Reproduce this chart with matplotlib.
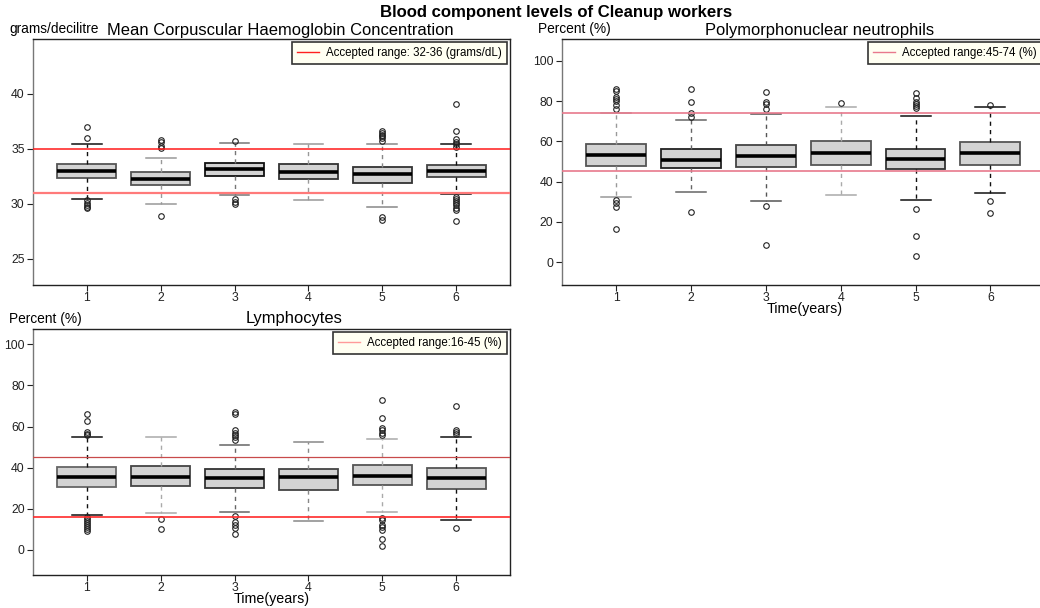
import matplotlib
matplotlib.use("Agg")
import matplotlib.pyplot as plt
from matplotlib.lines import Line2D

plt.rcParams['font.family'] = ['Liberation Sans', 'DejaVu Sans']

years = [1, 2, 3, 4, 5, 6]

# Mean Corpuscular Haemoglobin Concentration (grams/decilitre)
mchc_q1 = [32.3, 31.7, 32.5, 32.24, 31.85, 32.4]
mchc_med = [32.94, 32.24, 33.15, 32.88, 32.7, 32.94]
mchc_q3 = [33.6, 32.88, 33.7, 33.6, 33.36, 33.55]
mchc_lo = [30.42, 30.0, 30.8, 30.3, 29.73, 30.9]
mchc_hi = [35.42, 34.15, 35.5, 35.42, 35.42, 35.4]
mchc_out = [
    [37.0, 36.0, 30.3, 30.1, 29.9, 29.7, 29.6],
    [35.8, 35.6, 35.3, 35.1, 28.9],
    [35.67, 30.4, 30.2, 29.95],
    [],
    [36.6, 36.45, 36.3, 36.15, 36.0, 35.7, 28.75, 28.55],
    [39.1, 36.6, 35.9, 35.6, 35.4, 35.2, 30.65, 30.45, 30.25, 30.05, 29.85, 29.6, 29.45, 28.45],
]
mchc_range = [31, 35]

# Polymorphonuclear neutrophils (%)
pmn_q1 = [47.8, 46.5, 47.0, 48.2, 46.0, 48.2]
pmn_med = [53.0, 50.8, 52.8, 54.1, 51.3, 54.1]
pmn_q3 = [58.6, 56.0, 58.3, 60.3, 56.3, 59.8]
pmn_lo = [32.1, 34.8, 30.1, 33.1, 31.0, 34.1]
pmn_hi = [73.8, 70.4, 73.3, 76.8, 72.5, 77.2]
pmn_out = [
    [85.8, 85.0, 82.0, 81.0, 80.0, 78.0, 76.0, 30.8, 29.5, 27.2, 16.4],
    [86.1, 79.3, 74.2, 71.9, 25.0],
    [84.6, 79.6, 78.5, 76.2, 28.0, 8.4],
    [79.0],
    [84.1, 81.3, 79.6, 78.5, 77.5, 76.3, 26.2, 13.1, 3.1],
    [78.1, 30.1, 24.2],
]
pmn_range = [45, 74]

# Lymphocytes (%)
lym_q1 = [30.6, 31.0, 30.0, 29.3, 31.4, 29.8]
lym_med = [35.7, 35.3, 34.8, 35.7, 36.1, 34.8]
lym_q3 = [40.5, 40.8, 39.5, 39.5, 41.2, 40.0]
lym_lo = [17.0, 17.8, 18.3, 14.1, 18.2, 14.6]
lym_hi = [55.1, 55.1, 51.1, 52.7, 54.0, 54.9]
lym_out = [
    [66.1, 62.9, 57.5, 56.5, 55.9, 16.2, 15.0, 14.0, 13.0, 12.0, 11.0, 10.0, 9.2],
    [14.9, 10.0],
    [67.3, 66.1, 58.3, 57.0, 55.9, 54.8, 53.5, 16.5, 13.8, 12.2, 10.5, 7.5],
    [],
    [72.9, 64.0, 59.5, 58.3, 57.0, 55.9, 15.4, 14.5, 12.0, 11.0, 9.7, 5.2, 1.9],
    [70.0, 58.3, 57.3, 56.3, 10.7],
]
lym_range = [16, 45]

W, H = 1040, 608
fig = plt.figure(figsize=(W / 100, H / 100), dpi=100)


def px_axes(left, top, right, bottom):
    return fig.add_axes([left / W, 1 - bottom / H, (right - left) / W, (bottom - top) / H])


def draw_panel(ax, q1, med, q3, lo, hi, out, whisk_cols, box_cols):
    for i in range(len(years)):
        s = dict(q1=q1[i], med=med[i], q3=q3[i], whislo=lo[i], whishi=hi[i], fliers=out[i])
        ax.bxp([s], positions=[years[i]], widths=0.8, capwidths=0.4, patch_artist=True,
               boxprops=dict(facecolor='#d3d3d3', edgecolor=box_cols[i], linewidth=1.3),
               medianprops=dict(color='black', linewidth=2.6),
               whiskerprops=dict(color=whisk_cols[i], linestyle=(0, (3, 3)), linewidth=1.0),
               capprops=dict(color=whisk_cols[i], linewidth=1.1),
               flierprops=dict(marker='o', markersize=4, markerfacecolor='none',
                               markeredgecolor='#222222', markeredgewidth=0.8))
    ax.set_xlim(0.27, 6.73)
    ax.set_xticks(years)
    ax.set_xticklabels([str(y) for y in years])
    ax.tick_params(direction='out', length=4, labelsize=8.8, colors='#222222', width=0.8, pad=2)
    ax.tick_params(axis='x', pad=0.8)
    for sp in ax.spines.values():
        sp.set_color('#222222')
        sp.set_linewidth(1.0)
    ax.spines['left'].set_color('#777777')


def add_legend(ax, label, color):
    h = Line2D([], [], color=color, linewidth=1.0)
    leg = ax.legend([h], [label], loc='upper right', fontsize=8.3, handlelength=1.9,
                    borderaxespad=0.25, fancybox=False, framealpha=1, borderpad=0.45,
                    handletextpad=0.6)
    leg.get_frame().set_facecolor('#fffff2')
    leg.get_frame().set_edgecolor('#333333')
    leg.get_frame().set_linewidth(1.2)


# top left: MCHC
ax1 = px_axes(33, 39, 510, 285)
draw_panel(ax1, mchc_q1, mchc_med, mchc_q3, mchc_lo, mchc_hi, mchc_out,
           ['#111111', '#999999', '#777777', '#999999', '#888888', '#111111'],
           ['#555555', '#555555', '#111111', '#333333', '#333333', '#444444'])
ax1.axhline(mchc_range[1], color='#ff1a1a', linewidth=1.1, zorder=3)
ax1.axhline(mchc_range[0], color='#ff7a7a', linewidth=1.6, zorder=3)
ax1.set_ylim(22.6, 45.0)
ax1.set_yticks([25, 30, 35, 40])
add_legend(ax1, 'Accepted range: 32-36 (grams/dL)', '#ff2020')

# top right: neutrophils
ax2 = px_axes(561.7, 39, 1045, 285)
draw_panel(ax2, pmn_q1, pmn_med, pmn_q3, pmn_lo, pmn_hi, pmn_out,
           ['#999999', '#666666', '#555555', '#aaaaaa', '#111111', '#111111'],
           ['#555555', '#222222', '#444444', '#555555', '#333333', '#555555'])
ax2.axhline(pmn_range[1], color='#e8798c', linewidth=1.2, zorder=3)
ax2.axhline(pmn_range[0], color='#e8798c', linewidth=1.2, zorder=3)
ax2.set_ylim(-11.4, 110.8)
ax2.set_yticks([0, 20, 40, 60, 80, 100])
add_legend(ax2, 'Accepted range:45-74 (%)', '#e8798c')

# bottom left: lymphocytes
ax3 = px_axes(33, 328.7, 510, 575)
draw_panel(ax3, lym_q1, lym_med, lym_q3, lym_lo, lym_hi, lym_out,
           ['#111111', '#aaaaaa', '#666666', '#888888', '#aaaaaa', '#111111'],
           ['#666666', '#444444', '#333333', '#444444', '#555555', '#555555'])
ax3.axhline(lym_range[1], color='#c84a4a', linewidth=0.9, zorder=3)
ax3.axhline(lym_range[0], color='#ff2a2a', linewidth=1.2, zorder=3)
ax3.set_ylim(-12.2, 107.6)
ax3.set_yticks([0, 20, 40, 60, 80, 100])
add_legend(ax3, 'Accepted range:16-45 (%)', '#ff9a9a')


def ftext(x, y, s, **kw):
    fig.text(x / W, 1 - y / H, s, **kw)


ftext(556, 12, 'Blood component levels of Cleanup workers', ha='center', va='center',
      fontsize=12.1, fontweight='bold')
ftext(280, 30, 'Mean Corpuscular Haemoglobin Concentration', ha='center', va='center', fontsize=11.9)
ftext(820, 30, 'Polymorphonuclear neutrophils', ha='center', va='center', fontsize=11.9)
ftext(294, 318, 'Lymphocytes', ha='center', va='center', fontsize=11.9)
ftext(9, 29, 'grams/decilitre', ha='left', va='center', fontsize=9.9)
ftext(538, 29, 'Percent (%)', ha='left', va='center', fontsize=9.9)
ftext(9, 319, 'Percent (%)', ha='left', va='center', fontsize=9.9)
ftext(805, 309, 'Time(years)', ha='center', va='center', fontsize=10.3)
ftext(272, 599, 'Time(years)', ha='center', va='center', fontsize=10.3)

fig.savefig('out.png', dpi=100)
